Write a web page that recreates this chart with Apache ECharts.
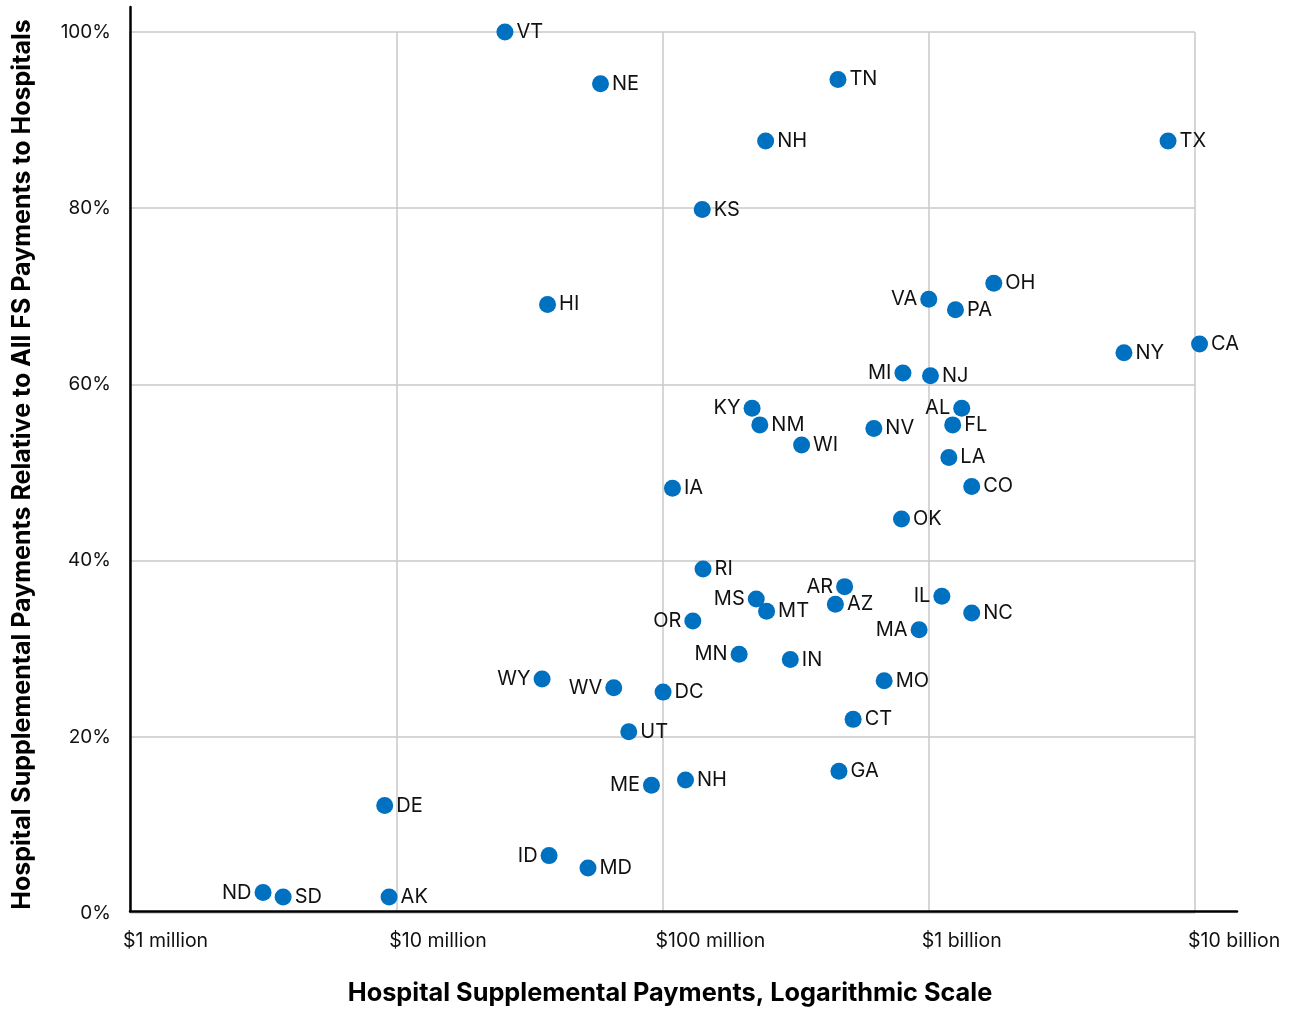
<!DOCTYPE html>
<html>
<head>
<meta charset="utf-8">
<title>Hospital Supplemental Payments by State</title>
<script src="https://cdn.jsdelivr.net/npm/echarts@6/dist/echarts.min.js"></script>
<style>
  html, body { margin: 0; padding: 0; background: #ffffff; }
  #chart { width: 1306px; height: 1011px; }
</style>
</head>
<body>
<div id="chart"></div>
<script>
// State abbreviations, hospital supplemental payments (USD) and their share of all FS payments (%)
const states = ['VT','NE','TN','NH','TX','KS','HI','OH','VA','PA','CA','NY','MI','NJ','KY','NM','AL','FL','NV','WI','LA','CO','IA','OK','RI','AR','MS','MT','AZ','IL','NC','OR','MA','MN','IN','MO','DC','WY','WV','UT','CT','GA','ME','NH','DE','ID','MD','ND','SD','AK'];
const payments = [2.56e7, 5.85e7, 4.56e8, 2.44e8, 7.92e9, 1.41e8, 3.70e7, 1.755e9, 1.00e9, 1.26e9, 1.04e10, 5.41e9, 8.0e8, 1.015e9, 2.17e8, 2.32e8, 1.33e9, 1.23e9, 6.22e8, 3.33e8, 1.19e9, 1.45e9, 1.09e8, 7.9e8, 1.42e8, 4.83e8, 2.25e8, 2.46e8, 4.46e8, 1.12e9, 1.45e9, 1.30e8, 9.2e8, 1.94e8, 3.02e8, 6.8e8, 1.005e8, 3.53e7, 6.56e7, 7.47e7, 5.2e8, 4.6e8, 9.09e7, 1.22e8, 9.05e6, 3.75e7, 5.25e7, 3.16e6, 3.76e6, 9.4e6];
const shares = [100.0, 94.1, 94.6, 87.6, 87.6, 79.8, 69.0, 71.4, 69.6, 68.4, 64.5, 63.5, 61.2, 60.9, 57.2, 55.3, 57.2, 55.3, 54.9, 53.0, 51.6, 48.3, 48.1, 44.6, 38.9, 36.9, 35.5, 34.1, 34.9, 35.8, 33.9, 33.0, 32.0, 29.2, 28.6, 26.2, 24.9, 26.4, 25.4, 20.4, 21.8, 15.9, 14.3, 14.9, 12.0, 6.3, 4.9, 2.1, 1.6, 1.6];

// States whose label sits to the left of the dot
const leftLabeled = ['VA','MI','KY','AL','AR','MS','IL','MA','MN','OR','WY','WV','ME','ID','ND'];

// Tick labels
const xTickLabels = ['$1 million', '$10 million', '$100 million', '$1 billion', '$10 billion'];
const yTicks = [0, 20, 40, 60, 80, 100];

const FONT = 'Inter, "Noto Sans", sans-serif';
const DOT = '#0070C0';
const GRID_LINE = '#c8c8c8';

const chart = echarts.init(document.getElementById('chart'), null, { renderer: 'canvas' });

const points = states.map((s, i) => ({
  name: s,
  value: [payments[i], shares[i] / 100],
  label: { position: leftLabeled.indexOf(s) >= 0 ? 'left' : 'right' }
}));

// Axis extents of the data grid reach slightly past $10 billion and 100%
const X_MAX = Math.pow(10, 10 + 42 / 266.25);
const Y_MAX = 906 / 881;

chart.setOption({
  animation: false,
  backgroundColor: '#ffffff',
  textStyle: { fontFamily: FONT },
  grid: [
    // gridline box: $1 million..$10 billion, 0..100%
    { left: 130, top: 32, width: 1065, height: 881, containLabel: false },
    // data area with the extended axis lines
    { left: 130, top: 7, width: 1107, height: 906, containLabel: false }
  ],
  xAxis: [
    {
      gridIndex: 0,
      type: 'log',
      logBase: 10,
      min: 1e6,
      max: 1e10,
      axisLine: { show: false },
      axisTick: { show: false },
      splitLine: { show: true, lineStyle: { color: GRID_LINE, width: 1.5 } },
      axisLabel: {
        show: true,
        margin: 18,
        align: 'left',
        padding: [0, 0, 0, -7],
        fontFamily: FONT,
        fontSize: 19.5,
        color: '#111111',
        formatter: function (v) {
          return xTickLabels[Math.round(Math.log10(v)) - 6] || '';
        }
      }
    },
    {
      gridIndex: 1,
      type: 'log',
      logBase: 10,
      min: 1e6,
      max: X_MAX,
      axisLine: { show: true, onZero: false, lineStyle: { color: '#000000', width: 2.5 } },
      axisTick: { show: false },
      axisLabel: { show: false },
      splitLine: { show: false },
      name: 'Hospital Supplemental Payments, Logarithmic Scale',
      nameLocation: 'middle',
      nameGap: 70,
      nameTextStyle: {
        fontFamily: FONT,
        fontSize: 25.3,
        fontWeight: 'bold',
        color: '#000000',
        padding: [0, 27, 0, 0]
      }
    }
  ],
  yAxis: [
    {
      gridIndex: 0,
      type: 'value',
      min: 0,
      max: 1,
      interval: 0.2,
      axisLine: { show: false },
      axisTick: { show: false },
      splitLine: { show: true, lineStyle: { color: GRID_LINE, width: 1.5 } },
      axisLabel: {
        show: true,
        margin: 19,
        fontFamily: FONT,
        fontSize: 19,
        color: '#111111',
        formatter: function (v) {
          const p = Math.round(v * 100);
          return yTicks.indexOf(p) >= 0 ? p + '%' : '';
        }
      }
    },
    {
      gridIndex: 1,
      type: 'value',
      min: 0,
      max: Y_MAX,
      axisLine: { show: true, onZero: false, lineStyle: { color: '#000000', width: 2.5 } },
      axisTick: { show: false },
      axisLabel: { show: false },
      splitLine: { show: false },
      name: 'Hospital Supplemental Payments Relative to All FS Payments to Hospitals',
      nameLocation: 'middle',
      nameGap: 95,
      nameTextStyle: {
        fontFamily: FONT,
        fontSize: 25,
        fontWeight: 'bold',
        color: '#000000',
        padding: [0, 11, 0, 0]
      }
    }
  ],
  series: [
    {
      type: 'scatter',
      xAxisIndex: 1,
      yAxisIndex: 1,
      symbol: 'circle',
      symbolSize: 17,
      itemStyle: { color: DOT, opacity: 1 },
      label: {
        show: true,
        formatter: '{b}',
        distance: 3,
        fontFamily: FONT,
        fontSize: 20,
        color: '#111111'
      },
      labelLayout: { hideOverlap: false },
      data: points
    }
  ]
});
</script>
</body>
</html>
